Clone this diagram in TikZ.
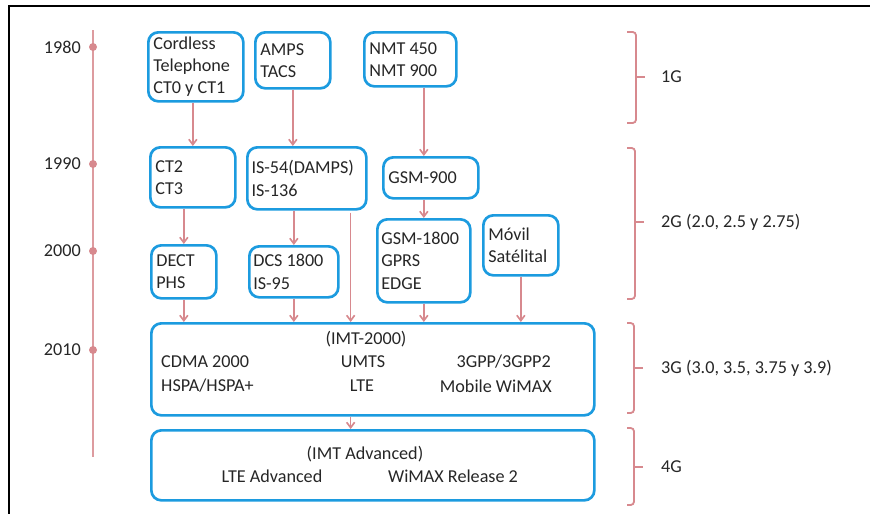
\documentclass[tikz,border=0pt]{standalone}
\usepackage{fontspec}
\setmainfont{Carlito}
\usepackage{xcolor}
\definecolor{gblue}{HTML}{1C9BDF}
\definecolor{gred}{HTML}{D7898E}
\definecolor{gtext}{HTML}{262626}
\usetikzlibrary{arrows.meta,calc}
% keep names such as IS-54 on one line
\exhyphenpenalty=10000
\hyphenpenalty=10000

\begin{document}
\begin{tikzpicture}[
  x=0.3mm, y=0.3mm,
  font=\fontsize{15.5pt}{19pt}\selectfont,
  text=gtext,
  box/.style={rectangle,rounded corners=3mm,draw=gblue,line width=0.8mm,anchor=north west,align=left,inner xsep=1.5mm,inner ysep=0pt,
    execute at begin node={\spaceskip=0pt\relax}},
  lbl/.style={inner sep=0pt},
  arr/.style={-{Straight Barb[length=1.6mm,width=2.4mm]},draw=gred,line width=0.5mm},
  brace/.style={draw=gred,line width=0.55mm,rounded corners=1mm},
  tline/.style={draw=gred!85,line width=0.8mm}
]
\useasboundingbox (0,0) rectangle (870,-514);
\draw[line width=0.6mm] (870,-6) -- (9,-6) -- (9,-514);

% timeline with the decades
\draw[tline] (93,-30) -- (93,-457);
\foreach \y/\yr in {47/1980,164/1990,251/2000,350/2010}{
  \fill[gred] (93,-\y) circle (4);
  \node[lbl,anchor=east] (y\yr) at (81,-\y) {\yr};
}

% 1G
\node[box,minimum width=28.5mm,minimum height=20.7mm,text width=25.5mm] (cordless) at (147,-31) {Cordless\\Telephone\\CT0 y CT1};
\node[box,minimum width=22.5mm,minimum height=16.8mm,text width=19.5mm] (amps) at (254,-31) {AMPS\\TACS};
\node[box,minimum width=27.6mm,minimum height=16.2mm,text width=24.6mm] (nmt) at (363,-31) {NMT 450\\NMT 900};

% 2G
\node[box,minimum width=25.5mm,minimum height=18mm,text width=22.5mm] (ct2) at (149,-146) {CT2\\CT3};
\node[box,minimum width=35.7mm,minimum height=18.6mm,text width=33.2mm,inner xsep=1.2mm] (is54) at (246,-146) {IS-54(DAMPS)\\IS-136};
\node[box,minimum width=28.5mm,minimum height=12.3mm,text width=25.5mm] (gsm900) at (382,-156) {GSM-900};
\node[box,minimum width=19.5mm,minimum height=15.9mm,text width=16.5mm] (dect) at (150,-244) {DECT\\PHS};
\node[box,minimum width=26.7mm,minimum height=15.3mm,text width=24.3mm,inner xsep=1.2mm] (dcs) at (248,-245) {DCS 1800\\IS-95};
\node[box,minimum width=27.9mm,minimum height=24.9mm,text width=25.5mm,inner xsep=1.2mm] (gsm1800) at (376,-218) {GSM-1800\\GPRS\\EDGE};
\node[box,minimum width=22.5mm,minimum height=18mm,text width=19.5mm] (movil) at (482,-214) {Móvil\\Satélital};

% 3G
\node[box,minimum width=132.9mm,minimum height=27.6mm] (imt) at (150,-322) {};
\node[lbl] (imtname) at (366,-339) {(IMT-2000)};
\node[lbl,anchor=west] (cdma) at (161,-362) {CDMA 2000};
\node[lbl] (umts) at (363,-362) {UMTS};
\node[lbl,anchor=east] (tgpp) at (551,-362) {3GPP/3GPP2};
\node[lbl,anchor=west] (hspa) at (161,-386) {HSPA/HSPA+};
\node[lbl] (lte) at (362,-386) {LTE};
\node[lbl,anchor=east] (wimax) at (552,-386) {Mobile WiMAX};

% 4G
\node[box,minimum width=132.9mm,minimum height=21mm] (imtadv) at (150,-429) {};
\node[lbl] (advname) at (365,-454) {(IMT Advanced)};
\node[lbl] (lteadv) at (272,-476) {LTE Advanced};
\node[lbl] (wimaxtwo) at (453,-476) {WiMAX Release 2};

% evolution arrows
\draw[arr] (ct2.north |- cordless.south) -- (ct2.north);
\draw[arr] (amps.south) -- (amps.south |- is54.north);
\draw[arr] (gsm1800.north |- nmt.south) -- (gsm1800.north |- gsm900.north);
\draw[arr] (dect.north |- ct2.south) -- (dect.north);
\draw[arr] (dcs.north |- is54.south) -- (dcs.north);
\draw[arr] (gsm1800.north |- gsm900.south) -- (gsm1800.north);
\coordinate (drop) at ($(is54.south west)!0.86!(is54.south east)$);
\draw[arr] ($(drop)+(0,-2)$) -- (drop |- imt.north);
\foreach \n in {dect,dcs,gsm1800,movil}
  \draw[arr] (\n.south) -- (\n.south |- imt.north);
\draw[arr] (imt.south -| drop) -- (imtadv.north -| drop);

% generation braces
\foreach \t/\b/\m/\x/\txt in {32/123/77/636/1G, 148/299/222/635/{2G (2.0, 2.5 y 2.75)},
    323/413/368/634/{3G (3.0, 3.5, 3.75 y 3.9)}, 428/505/467/634/4G}{
  \draw[brace] (627,-\t) -- (\x,-\t) -- (\x,-\b) -- (627,-\b);
  \draw[brace] (\x,-\m) -- (\x+9,-\m);
  \node[lbl,anchor=west] (gen\t) at (661,-\m) {\txt};
}
\end{tikzpicture}
\end{document}
